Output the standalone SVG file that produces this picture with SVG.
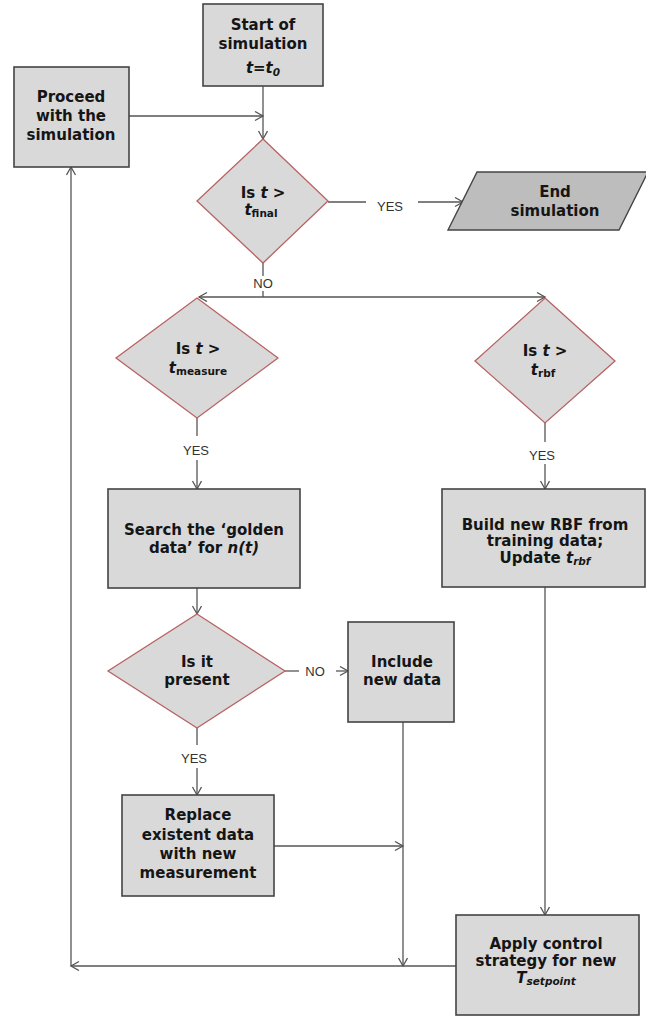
<svg xmlns="http://www.w3.org/2000/svg" width="646" height="1018" viewBox="0 0 646 1018">
<defs>
<marker id="arr" markerUnits="userSpaceOnUse" markerWidth="12" markerHeight="12" refX="9" refY="5" orient="auto">
<path d="M1,0.5 L9,5 L1,9.5" fill="none" stroke="#555" stroke-width="1.3"/>
</marker>
<style>
.box{fill:#d9d9d9;stroke:#444;stroke-width:1.6}
.end{fill:#bdbdbd;stroke:#444;stroke-width:1.4}
.dia{fill:#d9d9d9;stroke:#b96262;stroke-width:1.3}
.t{font-family:"DejaVu Sans",sans-serif;font-weight:bold;font-size:15px;fill:#151515;text-anchor:middle}
.i{font-style:italic}
.sub{font-size:10.5px}
.lab{font-family:"Liberation Sans",Arial,sans-serif;font-size:13px;fill:#333;text-anchor:middle}
.c{fill:none;stroke:#555;stroke-width:1.3}
.a{marker-end:url(#arr)}
</style>
</defs>
<rect width="646" height="1018" fill="#fff"/>

<g id="connectors">
<path class="c a" d="M263,86 V139"/>
<path class="c a" d="M129,116 H263"/>
<path class="c" d="M328,202 H366"/>
<text class="lab" x="390" y="211">YES</text>
<path class="c a" d="M418,202 H463"/>
<path class="c" d="M263,263 V276"/>
<text class="lab" x="263" y="288">NO</text>
<path class="c" d="M263,291 V297"/>
<path class="c a" d="M263,297 H199"/>
<path class="c a" d="M263,297 H545"/>
<path class="c" d="M197,418 V436"/>
<text class="lab" x="196" y="455">YES</text>
<path class="c a" d="M197,460 V489"/>
<path class="c" d="M545,423 V442"/>
<text class="lab" x="542" y="460">YES</text>
<path class="c a" d="M545,464 V489"/>
<path class="c a" d="M197,588 V614"/>
<path class="c" d="M285,671 H299"/>
<text class="lab" x="315" y="676">NO</text>
<path class="c a" d="M336,671 H348"/>
<path class="c" d="M197,728 V745"/>
<text class="lab" x="194" y="763">YES</text>
<path class="c a" d="M197,768 V795"/>
<path class="c a" d="M403,722 V966"/>
<path class="c a" d="M274,846 H403"/>
<path class="c a" d="M545,587 V915"/>
<path class="c a" d="M456,966 H71"/>
<path class="c a" d="M71,966 V167"/>
</g>

<g id="start">
<rect class="box" x="203" y="4" width="120" height="82"/>
<text class="t" x="263" y="30">Start of</text>
<text class="t" x="263" y="49">simulation</text>
<text class="t" x="263" y="73"><tspan class="i">t=t</tspan><tspan class="i sub" dy="3">0</tspan></text>
</g>

<g id="proceed">
<rect class="box" x="14" y="67" width="115" height="100"/>
<text class="t" x="71" y="102">Proceed</text>
<text class="t" x="71" y="121">with the</text>
<text class="t" x="71" y="140">simulation</text>
</g>

<g id="d-final">
<polygon class="dia" points="263,139 328,201 263,263 197,201"/>
<text class="t" x="263" y="198">Is <tspan class="i">t</tspan> &gt;</text>
<text class="t" x="261" y="215"><tspan class="i">t</tspan><tspan class="sub" dy="2">final</tspan></text>
</g>

<g id="end">
<polygon class="end" points="477,172 648,172 619,230 448,230"/>
<text class="t" x="555" y="197">End</text>
<text class="t" x="555" y="216">simulation</text>
</g>

<g id="d-measure">
<polygon class="dia" points="197,298 278,358 197,418 116,358"/>
<text class="t" x="198" y="354">Is <tspan class="i">t</tspan> &gt;</text>
<text class="t" x="198" y="373"><tspan class="i">t</tspan><tspan class="sub" dy="2">measure</tspan></text>
</g>

<g id="d-rbf">
<polygon class="dia" points="545,298 615,361 545,423 475,361"/>
<text class="t" x="545" y="356">Is <tspan class="i">t</tspan> &gt;</text>
<text class="t" x="543" y="375"><tspan class="i">t</tspan><tspan class="sub" dy="2">rbf</tspan></text>
</g>

<g id="search">
<rect class="box" x="108" y="489" width="192" height="99"/>
<text class="t" x="204" y="535">Search the ‘golden</text>
<text class="t" x="204" y="553">data’ for <tspan class="i">n(t)</tspan></text>
</g>

<g id="build">
<rect class="box" x="442" y="489" width="203" height="98"/>
<text class="t" x="545" y="530">Build new RBF from</text>
<text class="t" x="545" y="546">training data;</text>
<text class="t" x="545" y="563">Update <tspan class="i">t</tspan><tspan class="i sub" dy="2">rbf</tspan></text>
</g>

<g id="d-present">
<polygon class="dia" points="197,614 285,671 197,728 108,671"/>
<text class="t" x="197" y="667">Is it</text>
<text class="t" x="197" y="685">present</text>
</g>

<g id="include">
<rect class="box" x="348" y="622" width="106" height="100"/>
<text class="t" x="402" y="667">Include</text>
<text class="t" x="402" y="685">new data</text>
</g>

<g id="replace">
<rect class="box" x="122" y="795" width="152" height="101"/>
<text class="t" x="198" y="820">Replace</text>
<text class="t" x="198" y="840">existent data</text>
<text class="t" x="198" y="859">with new</text>
<text class="t" x="198" y="878">measurement</text>
</g>

<g id="apply">
<rect class="box" x="456" y="915" width="183" height="100"/>
<text class="t" x="546" y="949">Apply control</text>
<text class="t" x="546" y="966">strategy for new</text>
<text class="t" x="546" y="983"><tspan class="i">T</tspan><tspan class="i sub" dy="2">setpoint</tspan></text>
</g>
</svg>
